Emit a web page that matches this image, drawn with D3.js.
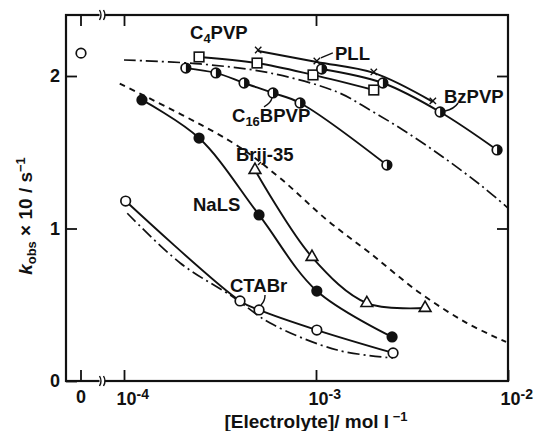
<!DOCTYPE html>
<html>
<head>
<meta charset="utf-8">
<script src="https://cdn.jsdelivr.net/npm/d3@7"></script>
<style>
body { margin: 0; background: #fff; }
text { font-family: "Liberation Sans", Arial, sans-serif; fill: #111; font-weight: bold; }
</style>
</head>
<body>
<svg id="chart" width="536" height="431"></svg>
<script>
// values: concentration in mol/l, k_obs x 10 in s^-1
var zeroK = [2.15];

var c4pvpConc = [2.46e-4, 4.93e-4, 9.65e-4, 2.0e-3];
var c4pvpK = [2.125, 2.085, 2.007, 1.908];

var pllConc = [5.0e-4, 1.01e-3, 2.0e-3, 4.06e-3];
var pllK = [2.164, 2.092, 2.02, 1.83];

var bzpvpConc = [1.07e-3, 2.23e-3, 4.43e-3, 8.77e-3];
var bzpvpK = [2.046, 1.954, 1.764, 1.515];

var c16Conc = [2.1e-4, 3.01e-4, 4.22e-4, 5.97e-4, 8.26e-4, 2.34e-3];
var c16K = [2.052, 2.02, 1.954, 1.889, 1.823, 1.416];

var nalsConc = [1.24e-4, 2.46e-4, 5.05e-4, 1.01e-3, 2.49e-3];
var nalsK = [1.843, 1.593, 1.089, 0.590, 0.289];

var brijConc = [4.81e-4, 9.53e-4, 1.84e-3, 3.70e-3];
var brijK = [1.384, 0.813, 0.511, 0.479];

var ctabConc = [1.02e-4, 4.02e-4, 5.05e-4, 1.01e-3, 2.52e-3];
var ctabK = [1.18, 0.525, 0.466, 0.334, 0.184];

// calculated curves (no markers)
var dashDotConc = [1e-4, 2.49e-4, 5.75e-4, 1.29e-3, 1.91e-3, 2.84e-3, 4.58e-3, 7.41e-3, 1e-2];
var dashDotK = [2.105, 2.079, 2.02, 1.895, 1.777, 1.646, 1.469, 1.272, 1.134];

var dashConc = [9.5e-5, 3.70e-4, 6.49e-4, 1.14e-3, 1.91e-3, 3.48e-3, 6.11e-3, 9.77e-3];
var dashK = [1.95, 1.561, 1.331, 1.056, 0.839, 0.577, 0.380, 0.256];

var ctabCalcConc = [1.04e-4, 1.96e-4, 3.70e-4, 5.77e-4, 1.29e-3, 2.52e-3];
var ctabCalcK = [1.10, 0.774, 0.551, 0.380, 0.203, 0.151];

var yTicks = [0, 1, 2];
var xTicks = [1e-4, 1e-3, 1e-2];
var xTickExp = ["-4", "-3", "-2"];

var svg = d3.select("#chart");
var W = 442, H = 366;
var g = svg.append("g").attr("transform", "translate(66,15)");

var x = d3.scaleLog().domain([1e-4, 1e-2]).range([58, W]);
var y = d3.scaleLinear().domain([0, 2.4]).range([H, 0]);
var x0 = 15; // where c = 0 sits, left of the axis break

function pts(cs, ks) {
    return cs.map(function (c, i) { return [x(c), y(ks[i])]; });
}

var line = d3.line().curve(d3.curveCatmullRom.alpha(0.5));

// frame
g.append("rect").attr("width", W).attr("height", H)
    .attr("fill", "none").attr("stroke", "#111").attr("stroke-width", 2.2);

// y ticks, left and right, inward
var yl = g.append("g").call(d3.axisLeft(y).tickValues(yTicks).tickSizeInner(-11).tickSizeOuter(0).tickPadding(6).tickFormat(d3.format("d")));
var yr = g.append("g").attr("transform", "translate(" + W + ",0)")
    .call(d3.axisRight(y).tickValues(yTicks.slice(1)).tickSizeInner(-11).tickSizeOuter(0).tickFormat(""));
[yl, yr].forEach(function (a) {
    a.select(".domain").remove();
    a.selectAll("line").attr("stroke", "#111").attr("stroke-width", 1.8);
});
yl.selectAll("text").attr("font-size", 18).attr("font-family", "Liberation Sans, Arial, sans-serif").attr("fill", "#111");

// x ticks, bottom and top
var xb = g.append("g").attr("transform", "translate(0," + H + ")")
    .call(d3.axisBottom(x).tickValues(xTicks).tickSizeInner(-11).tickSizeOuter(0).tickPadding(7).tickFormat(function () { return ""; }));
var xt = g.append("g")
    .call(d3.axisTop(x).tickValues(xTicks.slice(0, 2)).tickSizeInner(-11).tickSizeOuter(0).tickFormat(""));
[xb, xt].forEach(function (a) {
    a.select(".domain").remove();
    a.selectAll("line").attr("stroke", "#111").attr("stroke-width", 1.8);
});
xb.selectAll(".tick text").each(function (d, i) {
    var t = d3.select(this).attr("font-size", 18).attr("text-anchor", "start")
        .attr("font-family", "Liberation Sans, Arial, sans-serif").attr("fill", "#111")
        .attr("x", -8).attr("dy", "0.95em");
    t.text("10");
    t.append("tspan").attr("dy", "-0.45em").attr("font-size", 14).text(xTickExp[i]);
});

// c = 0 ticks
[0, H].forEach(function (yy) {
    g.append("line").attr("x1", x0).attr("x2", x0).attr("y1", yy).attr("y2", yy === 0 ? 11 : H - 11)
        .attr("stroke", "#111").attr("stroke-width", 1.8);
});
g.append("text").attr("x", x0).attr("y", H + 22).attr("text-anchor", "middle")
    .attr("font-size", 18).text("0");

// axis break marks
[0, H].forEach(function (yy) {
    var bx = (x0 + x(1e-4)) / 2 - 2;
    g.append("rect").attr("x", bx - 1).attr("y", yy - 3).attr("width", 5).attr("height", 6).attr("fill", "#fff");
    [0, 4].forEach(function (dx) {
        g.append("path")
            .attr("d", "M" + (bx + dx - 1) + "," + (yy - 5) + " q3,5 0,10")
            .attr("fill", "none").attr("stroke", "#111").attr("stroke-width", 1.4);
    });
});

// calculated curves
g.append("path").attr("d", line(pts(dashDotConc, dashDotK)))
    .attr("fill", "none").attr("stroke", "#111").attr("stroke-width", 1.7)
    .attr("stroke-dasharray", "12,4,2,4");
g.append("path").attr("d", line(pts(dashConc, dashK)))
    .attr("fill", "none").attr("stroke", "#111").attr("stroke-width", 1.9)
    .attr("stroke-dasharray", "6,5");
g.append("path").attr("d", line(pts(ctabCalcConc, ctabCalcK)))
    .attr("fill", "none").attr("stroke", "#111").attr("stroke-width", 1.7)
    .attr("stroke-dasharray", "12,4,2,4");

// measured series
var series = [
    {c: c4pvpConc, k: c4pvpK, mark: "square"},
    {c: pllConc, k: pllK, mark: "x"},
    {c: bzpvpConc, k: bzpvpK, mark: "half"},
    {c: c16Conc, k: c16K, mark: "half"},
    {c: nalsConc, k: nalsK, mark: "filled"},
    {c: brijConc, k: brijK, mark: "triangle"},
    {c: ctabConc, k: ctabK, mark: "open"}
];

series.forEach(function (s) {
    g.append("path").attr("d", line(pts(s.c, s.k)))
        .attr("fill", "none").attr("stroke", "#111").attr("stroke-width", 1.9);
});

function drawMark(px, py, mark) {
    if (mark === "open" || mark === "half") {
        g.append("circle").attr("cx", px).attr("cy", py).attr("r", 4.8)
            .attr("fill", "#fff").attr("stroke", "#111").attr("stroke-width", 1.7);
        if (mark === "half") {
            g.append("path").attr("d", "M" + px + "," + (py - 4.8) + " A4.8,4.8 0 0 1 " + px + "," + (py + 4.8) + " Z")
                .attr("fill", "#111");
        }
    } else if (mark === "filled") {
        g.append("circle").attr("cx", px).attr("cy", py).attr("r", 5.6).attr("fill", "#111");
    } else if (mark === "square") {
        g.append("rect").attr("x", px - 4.8).attr("y", py - 4.8).attr("width", 9.6).attr("height", 9.6)
            .attr("fill", "#fff").attr("stroke", "#111").attr("stroke-width", 1.6);
    } else if (mark === "triangle") {
        g.append("path").attr("d", d3.symbol().type(d3.symbolTriangle).size(60)())
            .attr("transform", "translate(" + px + "," + py + ")")
            .attr("fill", "#fff").attr("stroke", "#111").attr("stroke-width", 1.6);
    } else if (mark === "x") {
        g.append("path").attr("d", d3.symbol().type(d3.symbolTimes).size(28)())
            .attr("transform", "translate(" + px + "," + (py - 1) + ")")
            .attr("fill", "none").attr("stroke", "#111").attr("stroke-width", 1.4);
    }
}

series.forEach(function (s) {
    pts(s.c, s.k).forEach(function (p) { drawMark(p[0], p[1], s.mark); });
});
drawMark(x0, y(zeroK[0]), "open");

// annotations
function label(px, py, parts) {
    var t = g.append("text").attr("x", px).attr("y", py).attr("font-size", 18.5);
    parts.forEach(function (p) {
        var ts = t.append("tspan").text(p[0]);
        if (p[1] === "sub") ts.attr("font-size", 13).attr("dy", 4);
        if (p[1] === "up") ts.attr("dy", -4);
    });
    return t;
}
function pointer(d) {
    g.append("path").attr("d", d).attr("fill", "none").attr("stroke", "#111").attr("stroke-width", 1.4);
}

label(124, 24, [["C"], ["4", "sub"], ["PVP", "up"]]);
label(269, 45, [["PLL"]]);
label(378, 88, [["BzPVP"]]);
label(166, 107, [["C"], ["16", "sub"], ["BPVP", "up"]]);
label(170, 146, [["Brij-35"]]);
label(127, 196, [["NaLS"]]);
label(164, 277, [["CTABr"]]);

var p;
p = [x(pllConc[1]), y(pllK[1])];
pointer("M" + (p[0] + 4) + "," + (p[1] - 4) + " L" + (p[0] + 16) + "," + (p[1] - 9));
p = [x(bzpvpConc[2]), y(bzpvpK[2])];
pointer("M" + (p[0] + 5) + "," + (p[1] - 1) + " Q" + (p[0] + 14) + "," + (p[1] - 3) + " " + (p[0] + 18) + "," + (p[1] - 9));
p = [x(c16Conc[3]), y(c16K[3])];
pointer("M" + (p[0] - 1) + "," + (p[1] + 5) + " Q" + (p[0] - 2) + "," + (p[1] + 10) + " " + (p[0] - 9) + "," + (p[1] + 14));
p = [x(brijConc[0]), y(brijK[0])];
pointer("M" + (p[0] + 3) + "," + (p[1] - 5) + " L" + (p[0] + 6) + "," + (p[1] - 8));
p = [x(ctabConc[2]), y(ctabK[2])];
pointer("M" + (p[0] + 2) + "," + (p[1] - 5) + " Q" + (p[0] + 6) + "," + (p[1] - 9) + " " + (p[0] + 6) + "," + (p[1] - 15));

// axis titles
var yt = svg.append("text").attr("transform", "translate(32,216) rotate(-90)")
    .attr("text-anchor", "middle").attr("font-size", 19);
yt.append("tspan").attr("font-style", "italic").text("k");
yt.append("tspan").attr("font-size", 13).attr("dy", 4).text("obs");
yt.append("tspan").attr("dy", -4).text(" \u00d7 10 / s");
yt.append("tspan").attr("font-size", 13).attr("dy", -7).text("\u22121");

var xtl = svg.append("text").attr("x", 316).attr("y", 428).attr("text-anchor", "middle").attr("font-size", 19);
xtl.append("tspan").text("[Electrolyte]/ mol l");
xtl.append("tspan").attr("font-size", 13).attr("dy", -7).text(" \u22121");
</script>
</body>
</html>
